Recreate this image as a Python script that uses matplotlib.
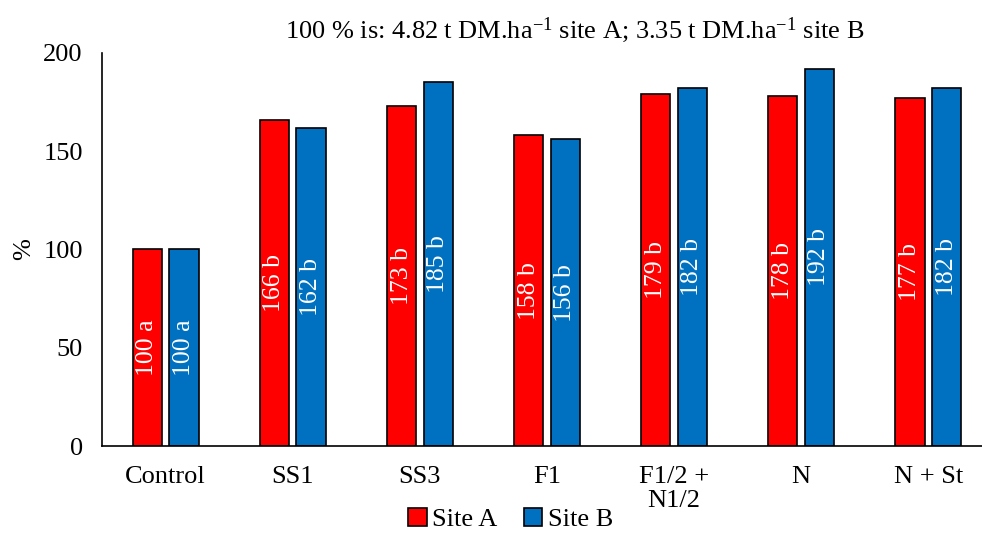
import matplotlib
matplotlib.use("Agg")
import matplotlib.pyplot as plt
import numpy as np

categories = ["Control", "SS1", "SS3", "F1", "F1/2 +\nN1/2", "N", "N + St"]
site_a = [100, 166, 173, 158, 179, 178, 177]
site_b = [100, 162, 185, 156, 182, 192, 182]
letters_a = ["a", "b", "b", "b", "b", "b", "b"]
letters_b = ["a", "b", "b", "b", "b", "b", "b"]

plt.rcParams['font.family'] = ['Liberation Serif', 'DejaVu Serif']
plt.rcParams['mathtext.fontset'] = 'custom'
plt.rcParams['mathtext.rm'] = 'Liberation Serif'
plt.rcParams['mathtext.it'] = 'Liberation Serif'

fig = plt.figure(figsize=(9.82, 5.33), dpi=100)
ax = fig.add_axes([0.104, 0.163, 0.906, 0.738])

x = np.arange(len(categories))
w = 0.23
off = 0.144
ba = ax.bar(x - off, site_a, w, color="#ff0000", edgecolor="black", linewidth=1.2, label="Site A")
bb = ax.bar(x + off, site_b, w, color="#0070c0", edgecolor="black", linewidth=1.2, label="Site B")

for xi, v, l in zip(x - off, site_a, letters_a):
    ax.text(xi, v / 2, f"{v} {l}", rotation=90, ha="center", va="center", color="white", fontsize=18.5)
for xi, v, l in zip(x + off, site_b, letters_b):
    ax.text(xi, v / 2, f"{v} {l}", rotation=90, ha="center", va="center", color="white", fontsize=18.5)

ax.set_xlim(-0.5, len(categories) - 0.5)
ax.set_ylim(0, 200)
ax.set_yticks([0, 50, 100, 150, 200])
ax.set_xticks(x)
ax.set_xticklabels(categories, fontsize=19, va="top", linespacing=1.15)
ax.tick_params(axis="y", labelsize=19, length=0, pad=14)
ax.tick_params(axis="x", length=0, pad=14)
ax.spines["top"].set_visible(False)
ax.spines["right"].set_visible(False)
ax.spines["left"].set_linewidth(1.2)
ax.spines["bottom"].set_linewidth(1.2)
ax.set_ylabel("%", fontsize=19, labelpad=6)

fig.text(0.585, 0.943, r"100 % is: 4.82 t DM.ha$^{\mathrm{-1}}$ site A; 3.35 t DM.ha$^{\mathrm{-1}}$ site B",
         ha="center", va="center", fontsize=19)

fig.legend(handles=[ba, bb], loc="center", bbox_to_anchor=(0.52, 0.025), ncol=2, frameon=False,
           fontsize=19, handlelength=0.7, handleheight=0.7, handletextpad=0.2, columnspacing=1.0,
           borderaxespad=0)

fig.savefig("out.png", dpi=100)
